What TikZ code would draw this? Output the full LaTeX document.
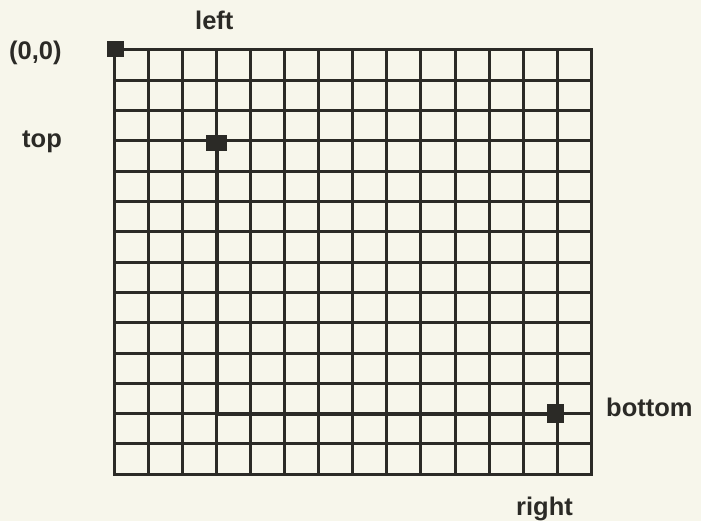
\documentclass[tikz,border=0pt]{standalone}
\usepackage{fontspec}
\setmainfont{Liberation Sans}
\definecolor{paper}{HTML}{F7F6EB}
\definecolor{ink}{HTML}{2B2A26}
\begin{document}
\begin{tikzpicture}[x=1pt,y=-1pt,
  gridline/.style={draw=ink,line width=3pt},
  rectline/.style={draw=ink,line width=3.8pt},
  marker/.style={fill=ink,inner sep=0pt,outer sep=0pt,draw=none},
  lbl/.style={text=ink,font=\fontsize{25.5}{25.5}\selectfont\bfseries,inner sep=0pt,anchor=base west}]
\fill[paper] (0,0) rectangle (701,521);
\useasboundingbox (0,0) rectangle (701,521);
% grid
\foreach \i in {0,...,14}{
  \draw[gridline] ({114.5+\i*34.05},50) -- ({114.5+\i*34.05},474.2);
  \draw[gridline] (114.5,{50+\i*30.3}) -- (591.2,{50+\i*30.3});
}
\draw[gridline,line cap=rect] (114.5,50) rectangle (591.2,474.2);
% highlighted rectangle edges
\coordinate (tl) at (216.65,140.9);
\coordinate (bl) at (216.65,413.6);
\coordinate (br) at (557.2,413.6);
\draw[rectline] (tl) -- (bl) -- (br);
% markers
\node[marker,minimum width=17pt,minimum height=16pt] (origin) at (115.5,49) {};
\node[marker,minimum width=21pt,minimum height=16pt] (topleft) at (216,143) {};
\node[marker,minimum width=17pt,minimum height=19pt] (botright) at (555.7,413) {};
% labels
\node[lbl] (lleft) at (195,30) {left};
\node[lbl] (lorigin) at (9,60) {(0,0)};
\node[lbl] (ltop) at (22,148) {top};
\node[lbl] (lbottom) at (606,416) {bottom};
\node[lbl] (lright) at (516,515) {right};
\end{tikzpicture}
\end{document}
